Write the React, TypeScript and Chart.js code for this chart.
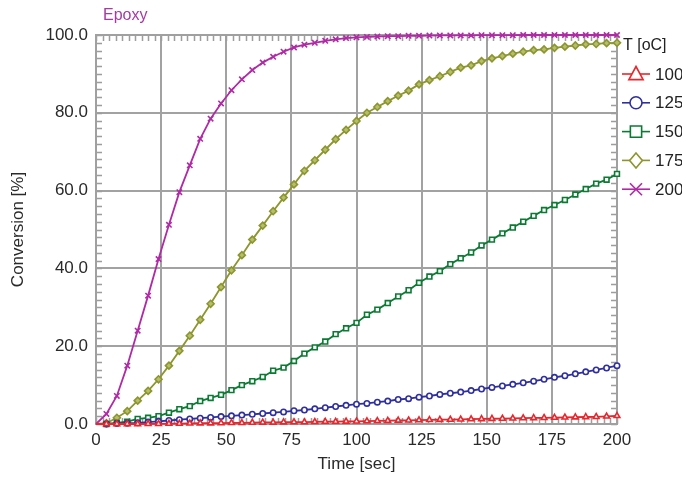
import React, { useEffect, useRef } from "react";
import { Chart, registerables } from "chart.js";

Chart.register(...registerables);

const times = [
  0, 4, 8, 12, 16, 20, 24, 28, 32, 36, 40, 44, 48, 52, 56, 60, 64, 68, 72, 76,
  80, 84, 88, 92, 96, 100, 104, 108, 112, 116, 120, 124, 128, 132, 136, 140,
  144, 148, 152, 156, 160, 164, 168, 172, 176, 180, 184, 188, 192, 196, 200,
];

const seriesLabels = ["100", "125", "150", "175", "200"];

const conv100 = [
  0, 0, 0, 0, 0, 0.05, 0.05, 0.1, 0.1, 0.15, 0.2, 0.2, 0.25, 0.3, 0.3, 0.35,
  0.4, 0.4, 0.45, 0.5, 0.5, 0.55, 0.6, 0.6, 0.65, 0.7, 0.75, 0.8, 0.85, 0.9,
  0.95, 1.0, 1.05, 1.1, 1.15, 1.2, 1.25, 1.3, 1.35, 1.4, 1.45, 1.5, 1.55, 1.6,
  1.65, 1.7, 1.75, 1.8, 1.85, 1.95, 2.1,
];

const conv125 = [
  0, 0, 0.1, 0.2, 0.3, 0.5, 0.7, 0.9, 1.1, 1.3, 1.5, 1.7, 1.9, 2.1, 2.3, 2.5,
  2.7, 2.9, 3.1, 3.4, 3.6, 3.9, 4.2, 4.5, 4.8, 5.1, 5.3, 5.6, 5.9, 6.3, 6.5,
  6.9, 7.2, 7.6, 7.9, 8.2, 8.6, 9.0, 9.4, 9.8, 10.2, 10.6, 11.0, 11.5, 12.0,
  12.4, 12.9, 13.4, 13.9, 14.4, 15.0,
];

const conv150 = [
  0, 0, 0.3, 0.6, 1.3, 1.6, 2.0, 2.9, 3.8, 4.6, 5.9, 6.7, 7.5, 8.7, 10, 11,
  12.1, 13.7, 14.5, 16.2, 18.1, 19.7, 21.2, 23.1, 24.6, 26, 28.1, 29.4, 31.1,
  32.8, 34.4, 36.3, 37.9, 39.3, 41.1, 42.6, 44.1, 45.9, 47.4, 49, 50.5, 52,
  53.5, 55, 56.3, 57.6, 59, 60.4, 61.8, 62.8, 64.3,
];

const conv175 = [
  0, 0.2, 1.6, 3.3, 6, 8.5, 11.5, 15, 18.8, 22.7, 26.8, 30.9, 35.2, 39.5,
  43.4, 47.4, 51, 54.7, 58.2, 61.6, 65.1, 67.8, 70.5, 73.2, 75.6, 77.9, 80,
  81.5, 83, 84.4, 85.7, 87.3, 88.4, 89.4, 90.5, 91.6, 92.2, 93.3, 94, 94.6,
  95.2, 95.7, 96.1, 96.3, 96.7, 97, 97.3, 97.6, 97.7, 97.9, 98,
];

const conv200 = [
  0, 2.6, 7.2, 15, 24, 33, 42.4, 51.2, 59.6, 66.5, 73.3, 78.5, 82.4, 85.8,
  88.6, 91, 92.9, 94.4, 95.7, 96.8, 97.5, 98, 98.5, 98.9, 99.2, 99.4, 99.5,
  99.6, 99.7, 99.7, 99.8, 99.8, 99.85, 99.9, 99.9, 99.9, 99.9, 99.95, 99.95,
  99.95, 99.95, 100, 100, 100, 100, 100, 100, 100, 100, 100, 100,
];

const xTickValues = [0, 25, 50, 75, 100, 125, 150, 175, 200];
const yTickValues = [0, 20, 40, 60, 80, 100];

const chartTitle = "Epoxy";
const legendTitle = "T [oC]";
const xTitle = "Time [sec]";
const yTitle = "Conversion [%]";

const FONT = "'Liberation Sans', Arial, sans-serif";
const colors = ["#e8262c", "#2f2f9f", "#0b7a33", "#8c962c", "#b02aa6"];
const styles = ["triangle", "circle", "rect", "rectRot", "crossRot"];
const fills = ["#ffffff", "#ffffff", "#ffffff", "#b6bd6e", "#b02aa6"];
const radii = [3.3, 2.7, 3.4, 3.5, 3.8];

function drawMarker(ctx: CanvasRenderingContext2D, style: string, x: number, y: number, r: number) {
  ctx.beginPath();
  if (style === "triangle") {
    ctx.moveTo(x, y - r);
    ctx.lineTo(x + r * 0.95, y + r * 0.75);
    ctx.lineTo(x - r * 0.95, y + r * 0.75);
    ctx.closePath();
    ctx.fill();
    ctx.stroke();
  } else if (style === "circle") {
    ctx.arc(x, y, r * 0.8, 0, Math.PI * 2);
    ctx.fill();
    ctx.stroke();
  } else if (style === "rect") {
    ctx.rect(x - r * 0.75, y - r * 0.75, r * 1.5, r * 1.5);
    ctx.fill();
    ctx.stroke();
  } else if (style === "rectRot") {
    ctx.moveTo(x, y - r);
    ctx.lineTo(x + r * 0.85, y);
    ctx.lineTo(x, y + r);
    ctx.lineTo(x - r * 0.85, y);
    ctx.closePath();
    ctx.fill();
    ctx.stroke();
  } else {
    const d = r * 0.8;
    ctx.moveTo(x - d, y - d);
    ctx.lineTo(x + d, y + d);
    ctx.moveTo(x + d, y - d);
    ctx.lineTo(x - d, y + d);
    ctx.stroke();
  }
}

const decorPlugin = {
  id: "decor",
  beforeDatasetsDraw(chart: any) {
    const { ctx, chartArea: a, scales } = chart;
    const xs = scales.x;
    const ys = scales.y;
    ctx.save();
    ctx.strokeStyle = "#9d9d9d";
    ctx.lineWidth = 1.5;
    ctx.beginPath();
    for (let v = 0; v <= 200; v += 2.5) {
      const px = Math.round(xs.getPixelForValue(v)) + 0.5;
      ctx.moveTo(px, a.top);
      ctx.lineTo(px, a.top + 6);
      ctx.moveTo(px, a.bottom);
      ctx.lineTo(px, a.bottom - 6);
    }
    for (let v = 0; v <= 100; v += 2) {
      const py = Math.round(ys.getPixelForValue(v)) + 0.5;
      ctx.moveTo(a.left, py);
      ctx.lineTo(a.left + 6, py);
      ctx.moveTo(a.right, py);
      ctx.lineTo(a.right - 6, py);
    }
    ctx.stroke();
    ctx.lineWidth = 2;
    ctx.strokeStyle = "#a0a0a0";
    ctx.strokeRect(a.left, a.top, a.right - a.left, a.bottom - a.top);
    ctx.restore();
  },
  afterDraw(chart: any) {
    const { ctx, chartArea: a } = chart;
    ctx.save();
    ctx.font = `16px ${FONT}`;
    ctx.fillStyle = "#a63aa0";
    ctx.textBaseline = "middle";
    ctx.textAlign = "left";
    ctx.fillText(chartTitle, a.left + 7, 16);

    const lx = a.right + 5;
    ctx.fillStyle = "#222222";
    ctx.font = `16px ${FONT}`;
    ctx.fillText(legendTitle, lx + 1, 46);
    chart.data.datasets.forEach((ds: any, i: number) => {
      const y = 74 + i * 28.8;
      ctx.strokeStyle = ds.borderColor;
      ctx.lineWidth = 1.6;
      ctx.beginPath();
      ctx.moveTo(lx, y);
      ctx.lineTo(lx + 28, y);
      ctx.stroke();
      ctx.fillStyle = "#ffffff";
      drawMarker(ctx, styles[i], lx + 14, y, 7.5);
      ctx.fillStyle = "#222222";
      ctx.font = `17px ${FONT}`;
      ctx.fillText(ds.label, lx + 33, y + 1);
    });
    ctx.restore();
  },
};

export default function App() {
  const ref = useRef<HTMLCanvasElement | null>(null);

  useEffect(() => {
    document.body.style.margin = "0";
    const canvas = ref.current;
    if (!canvas) return;
    const seriesValues = [conv100, conv125, conv150, conv175, conv200];
    const datasets = seriesValues.map((vals, i) => ({
      label: seriesLabels[i],
      data: times.map((t, k) => ({ x: t, y: vals[k] })),
      borderColor: colors[i],
      backgroundColor: colors[i],
      borderWidth: 1.8,
      pointStyle: styles[i],
      pointRadius: (c: any) => (c.dataIndex === 0 ? 0 : radii[i]),
      pointBorderWidth: 1.6,
      pointBorderColor: colors[i],
      pointBackgroundColor: fills[i],
      tension: 0,
      clip: false as any,
    }));

    const chart = new Chart(canvas, {
      type: "line",
      data: { datasets },
      plugins: [decorPlugin],
      options: {
        animation: false,
        responsive: false,
        layout: { padding: { top: 35, right: 65, left: 0, bottom: 0 } },
        plugins: {
          legend: { display: false },
          title: { display: false },
          tooltip: { enabled: false },
        },
        scales: {
          x: {
            type: "linear",
            min: 0,
            max: 200,
            afterFit: (s: any) => {
              s.height = 55;
            },
            afterBuildTicks: (s: any) => {
              s.ticks = xTickValues.map((v) => ({ value: v }));
            },
            ticks: {
              padding: 6,
              color: "#2a2a2a",
              font: { family: FONT, size: 17 },
              maxRotation: 0,
              callback: (v: any) => String(v),
            },
            grid: { color: "#a2a2a2", lineWidth: 2, drawTicks: false },
            border: { display: false },
            title: {
              display: true,
              text: xTitle,
              color: "#2a2a2a",
              font: { family: FONT, size: 17 },
              padding: { top: 0, bottom: 4 },
            },
          },
          y: {
            type: "linear",
            min: 0,
            max: 100,
            afterFit: (s: any) => {
              s.width = 96;
            },
            afterBuildTicks: (s: any) => {
              s.ticks = yTickValues.map((v) => ({ value: v }));
            },
            ticks: {
              padding: 8,
              color: "#2a2a2a",
              font: { family: FONT, size: 17 },
              callback: (v: any) => Number(v).toFixed(1),
            },
            grid: { color: "#a2a2a2", lineWidth: 2, drawTicks: false },
            border: { display: false },
            title: {
              display: true,
              text: yTitle,
              color: "#2a2a2a",
              font: { family: FONT, size: 17 },
              padding: { top: 8, bottom: 0 },
            },
          },
        },
      },
    });
    return () => chart.destroy();
  }, []);

  return (
    <div style={{ position: "absolute", left: 0, top: 0, width: 682, height: 479 }}>
      <canvas ref={ref} width={682} height={479} />
    </div>
  );
}
